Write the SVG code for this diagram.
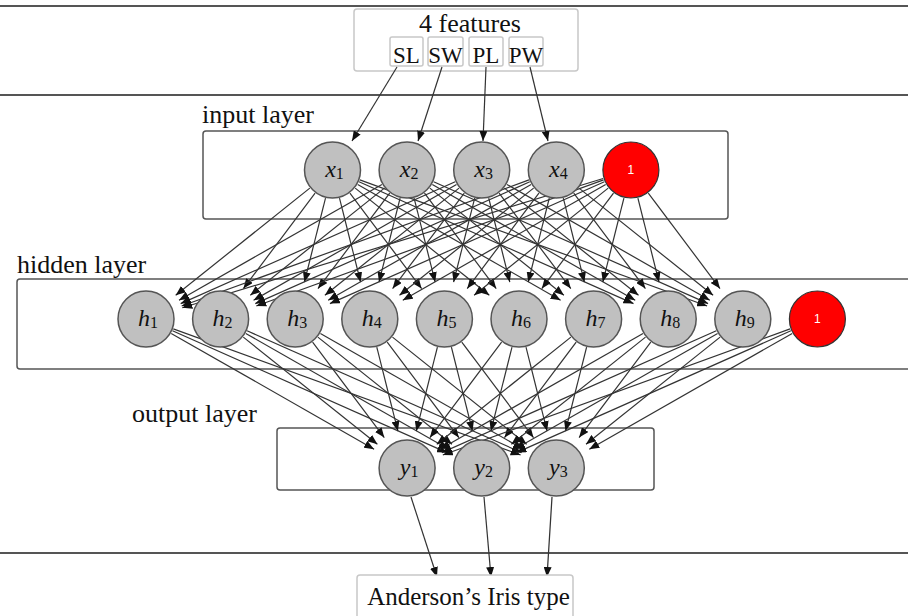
<svg xmlns="http://www.w3.org/2000/svg" width="908" height="616" viewBox="0 0 908 616">
<style>
text{font-family:"Liberation Serif","Times New Roman",serif;fill:#111}
.sep{stroke:#555;stroke-width:2}
.lay{fill:none;stroke:#555;stroke-width:1.5}
.fbox{fill:#fff;stroke:#c8c8c8;stroke-width:1.5}
.lt{font-size:26px}
.ft{font-size:23px;text-anchor:middle}
.n{fill:#c0c0c0;stroke:#555;stroke-width:1.5}
.b{fill:#ff0000;stroke:#333;stroke-width:1.2}
.nl{font-size:24px;text-anchor:middle}
.v{font-style:italic}
.s{font-size:16px}
.bl{font-family:"Liberation Sans",Arial,sans-serif;font-size:12px;fill:#fff;text-anchor:middle}
#edges line{stroke:#333;stroke-width:1.2;marker-end:url(#ah)}
</style>
<defs>
<marker id="ah" markerUnits="userSpaceOnUse" markerWidth="11" markerHeight="8" refX="10" refY="4" orient="auto"><path d="M0,0 L10,4 L0,8 z" fill="#111"/></marker>
</defs>
<rect width="908" height="616" fill="#fff"/>
<g id="separators">
<line class="sep" x1="0" y1="6" x2="908" y2="6"/>
<line class="sep" x1="0" y1="95" x2="908" y2="95"/>
<line class="sep" x1="0" y1="553" x2="908" y2="553"/>
</g>
<g id="features">
<rect class="fbox" x="354" y="9" width="224" height="62" rx="3"/>
<text class="lt" x="470" y="32" text-anchor="middle">4 features</text>
</g>
<g id="f_SL"><rect class="fbox" x="390" y="37" width="33" height="29" rx="2"/><text class="ft" x="406.5" y="63">SL</text></g>
<g id="f_SW"><rect class="fbox" x="428" y="37" width="35" height="29" rx="2"/><text class="ft" x="445.5" y="63">SW</text></g>
<g id="f_PL"><rect class="fbox" x="469" y="37" width="34" height="29" rx="2"/><text class="ft" x="486" y="63">PL</text></g>
<g id="f_PW"><rect class="fbox" x="509" y="37" width="34" height="29" rx="2"/><text class="ft" x="526" y="63">PW</text></g>
<g id="input_layer"><rect class="lay" x="203" y="131" width="525" height="88" rx="3"/><text class="lt" x="202" y="123">input layer</text></g>
<g id="hidden_layer"><rect class="lay" x="17" y="279" width="900" height="90" rx="3"/><text class="lt" x="17" y="273">hidden layer</text></g>
<g id="output_layer"><rect class="lay" x="277" y="428" width="377" height="62" rx="3"/><text class="lt" x="132" y="422">output layer</text></g>
<g id="edges">
<line x1="397" y1="67" x2="352" y2="141"/>
<line x1="442" y1="67" x2="418" y2="141"/>
<line x1="486" y1="67" x2="483" y2="141"/>
<line x1="530" y1="67" x2="548" y2="141"/>
<line x1="309.8" y1="188.1" x2="175.7" y2="295.3"/>
<line x1="315.1" y1="193.2" x2="243.4" y2="288.6"/>
<line x1="325.5" y1="198.1" x2="304.4" y2="282.1"/>
<line x1="339.5" y1="198.1" x2="360.6" y2="282.1"/>
<line x1="349.9" y1="193.2" x2="421.6" y2="288.6"/>
<line x1="355.2" y1="188.1" x2="489.3" y2="295.3"/>
<line x1="357.7" y1="184.4" x2="560.6" y2="300.2"/>
<line x1="359.0" y1="181.8" x2="633.5" y2="303.6"/>
<line x1="359.8" y1="179.9" x2="707.1" y2="306.0"/>
<line x1="381.9" y1="184.4" x2="179.0" y2="300.2"/>
<line x1="384.4" y1="188.1" x2="250.3" y2="295.3"/>
<line x1="389.7" y1="193.2" x2="318.0" y2="288.6"/>
<line x1="400.1" y1="198.1" x2="379.0" y2="282.1"/>
<line x1="414.1" y1="198.1" x2="435.2" y2="282.1"/>
<line x1="424.5" y1="193.2" x2="496.2" y2="288.6"/>
<line x1="429.8" y1="188.1" x2="563.9" y2="295.3"/>
<line x1="432.3" y1="184.4" x2="635.2" y2="300.2"/>
<line x1="433.6" y1="181.8" x2="708.1" y2="303.6"/>
<line x1="455.2" y1="181.8" x2="180.7" y2="303.6"/>
<line x1="456.5" y1="184.4" x2="253.6" y2="300.2"/>
<line x1="459.0" y1="188.1" x2="324.9" y2="295.3"/>
<line x1="464.3" y1="193.2" x2="392.6" y2="288.6"/>
<line x1="474.7" y1="198.1" x2="453.6" y2="282.1"/>
<line x1="488.7" y1="198.1" x2="509.8" y2="282.1"/>
<line x1="499.1" y1="193.2" x2="570.8" y2="288.6"/>
<line x1="504.4" y1="188.1" x2="638.5" y2="295.3"/>
<line x1="506.9" y1="184.4" x2="709.8" y2="300.2"/>
<line x1="529.0" y1="179.9" x2="181.7" y2="306.0"/>
<line x1="529.8" y1="181.8" x2="255.3" y2="303.6"/>
<line x1="531.1" y1="184.4" x2="328.2" y2="300.2"/>
<line x1="533.6" y1="188.1" x2="399.5" y2="295.3"/>
<line x1="538.9" y1="193.2" x2="467.2" y2="288.6"/>
<line x1="549.3" y1="198.1" x2="528.2" y2="282.1"/>
<line x1="563.3" y1="198.1" x2="584.4" y2="282.1"/>
<line x1="573.7" y1="193.2" x2="645.4" y2="288.6"/>
<line x1="579.0" y1="188.1" x2="713.1" y2="295.3"/>
<line x1="603.2" y1="178.5" x2="182.3" y2="307.8"/>
<line x1="603.6" y1="179.9" x2="256.3" y2="306.0"/>
<line x1="604.4" y1="181.8" x2="329.9" y2="303.6"/>
<line x1="605.7" y1="184.4" x2="402.8" y2="300.2"/>
<line x1="608.2" y1="188.1" x2="474.1" y2="295.3"/>
<line x1="613.5" y1="193.2" x2="541.8" y2="288.6"/>
<line x1="623.9" y1="198.1" x2="602.8" y2="282.1"/>
<line x1="637.9" y1="198.1" x2="659.0" y2="282.1"/>
<line x1="648.3" y1="193.2" x2="720.0" y2="288.6"/>
<line x1="171.2" y1="333.4" x2="374.1" y2="449.2"/>
<line x1="172.5" y1="330.8" x2="447.0" y2="452.6"/>
<line x1="173.3" y1="328.9" x2="520.6" y2="455.0"/>
<line x1="243.3" y1="337.1" x2="377.4" y2="444.3"/>
<line x1="245.8" y1="333.4" x2="448.7" y2="449.2"/>
<line x1="247.1" y1="330.8" x2="521.6" y2="452.6"/>
<line x1="312.6" y1="342.2" x2="384.3" y2="437.6"/>
<line x1="317.9" y1="337.1" x2="452.0" y2="444.3"/>
<line x1="320.4" y1="333.4" x2="523.3" y2="449.2"/>
<line x1="376.8" y1="347.1" x2="397.9" y2="431.1"/>
<line x1="387.2" y1="342.2" x2="458.9" y2="437.6"/>
<line x1="392.5" y1="337.1" x2="526.6" y2="444.3"/>
<line x1="437.4" y1="347.1" x2="416.3" y2="431.1"/>
<line x1="451.4" y1="347.1" x2="472.5" y2="431.1"/>
<line x1="461.8" y1="342.2" x2="533.5" y2="437.6"/>
<line x1="501.6" y1="342.2" x2="429.9" y2="437.6"/>
<line x1="512.0" y1="347.1" x2="490.9" y2="431.1"/>
<line x1="526.0" y1="347.1" x2="547.1" y2="431.1"/>
<line x1="570.9" y1="337.1" x2="436.8" y2="444.3"/>
<line x1="576.2" y1="342.2" x2="504.5" y2="437.6"/>
<line x1="586.6" y1="347.1" x2="565.5" y2="431.1"/>
<line x1="643.0" y1="333.4" x2="440.1" y2="449.2"/>
<line x1="645.5" y1="337.1" x2="511.4" y2="444.3"/>
<line x1="650.8" y1="342.2" x2="579.1" y2="437.6"/>
<line x1="716.3" y1="330.8" x2="441.8" y2="452.6"/>
<line x1="717.6" y1="333.4" x2="514.7" y2="449.2"/>
<line x1="720.1" y1="337.1" x2="586.0" y2="444.3"/>
<line x1="790.1" y1="328.9" x2="442.8" y2="455.0"/>
<line x1="790.9" y1="330.8" x2="516.4" y2="452.6"/>
<line x1="792.2" y1="333.4" x2="589.3" y2="449.2"/>
<line x1="411" y1="497" x2="437" y2="577"/>
<line x1="484" y1="497" x2="491" y2="577"/>
<line x1="552" y1="497" x2="547" y2="577"/>
</g>
<g id="x1"><circle class="n" cx="332.5" cy="170" r="28"/><text class="nl" x="334.5" y="177"><tspan class="v">x</tspan><tspan class="s" dy="2">1</tspan></text></g>
<g id="x2"><circle class="n" cx="407.1" cy="170" r="28"/><text class="nl" x="409.1" y="177"><tspan class="v">x</tspan><tspan class="s" dy="2">2</tspan></text></g>
<g id="x3"><circle class="n" cx="481.7" cy="170" r="28"/><text class="nl" x="483.7" y="177"><tspan class="v">x</tspan><tspan class="s" dy="2">3</tspan></text></g>
<g id="x4"><circle class="n" cx="556.3" cy="170" r="28"/><text class="nl" x="558.3" y="177"><tspan class="v">x</tspan><tspan class="s" dy="2">4</tspan></text></g>
<g id="bias_in"><circle class="b" cx="630.9" cy="170" r="28"/><text class="bl" x="630.9" y="174">1</text></g>
<g id="h1"><circle class="n" cx="146" cy="319" r="28"/><text class="nl" x="148" y="326"><tspan class="v">h</tspan><tspan class="s" dy="2">1</tspan></text></g>
<g id="h2"><circle class="n" cx="220.6" cy="319" r="28"/><text class="nl" x="222.6" y="326"><tspan class="v">h</tspan><tspan class="s" dy="2">2</tspan></text></g>
<g id="h3"><circle class="n" cx="295.2" cy="319" r="28"/><text class="nl" x="297.2" y="326"><tspan class="v">h</tspan><tspan class="s" dy="2">3</tspan></text></g>
<g id="h4"><circle class="n" cx="369.8" cy="319" r="28"/><text class="nl" x="371.8" y="326"><tspan class="v">h</tspan><tspan class="s" dy="2">4</tspan></text></g>
<g id="h5"><circle class="n" cx="444.4" cy="319" r="28"/><text class="nl" x="446.4" y="326"><tspan class="v">h</tspan><tspan class="s" dy="2">5</tspan></text></g>
<g id="h6"><circle class="n" cx="519" cy="319" r="28"/><text class="nl" x="521" y="326"><tspan class="v">h</tspan><tspan class="s" dy="2">6</tspan></text></g>
<g id="h7"><circle class="n" cx="593.6" cy="319" r="28"/><text class="nl" x="595.6" y="326"><tspan class="v">h</tspan><tspan class="s" dy="2">7</tspan></text></g>
<g id="h8"><circle class="n" cx="668.2" cy="319" r="28"/><text class="nl" x="670.2" y="326"><tspan class="v">h</tspan><tspan class="s" dy="2">8</tspan></text></g>
<g id="h9"><circle class="n" cx="742.8" cy="319" r="28"/><text class="nl" x="744.8" y="326"><tspan class="v">h</tspan><tspan class="s" dy="2">9</tspan></text></g>
<g id="bias_hid"><circle class="b" cx="817.4" cy="319" r="28"/><text class="bl" x="817.4" y="323">1</text></g>
<g id="y1"><circle class="n" cx="407.1" cy="468" r="28"/><text class="nl" x="409.1" y="475"><tspan class="v">y</tspan><tspan class="s" dy="2">1</tspan></text></g>
<g id="y2"><circle class="n" cx="481.7" cy="468" r="28"/><text class="nl" x="483.7" y="475"><tspan class="v">y</tspan><tspan class="s" dy="2">2</tspan></text></g>
<g id="y3"><circle class="n" cx="556.3" cy="468" r="28"/><text class="nl" x="558.3" y="475"><tspan class="v">y</tspan><tspan class="s" dy="2">3</tspan></text></g>
<g id="iris"><rect class="fbox" x="357" y="575" width="216" height="50" rx="3"/><text x="468.5" y="605" font-size="25" text-anchor="middle">Anderson’s Iris type</text></g>
</svg>
